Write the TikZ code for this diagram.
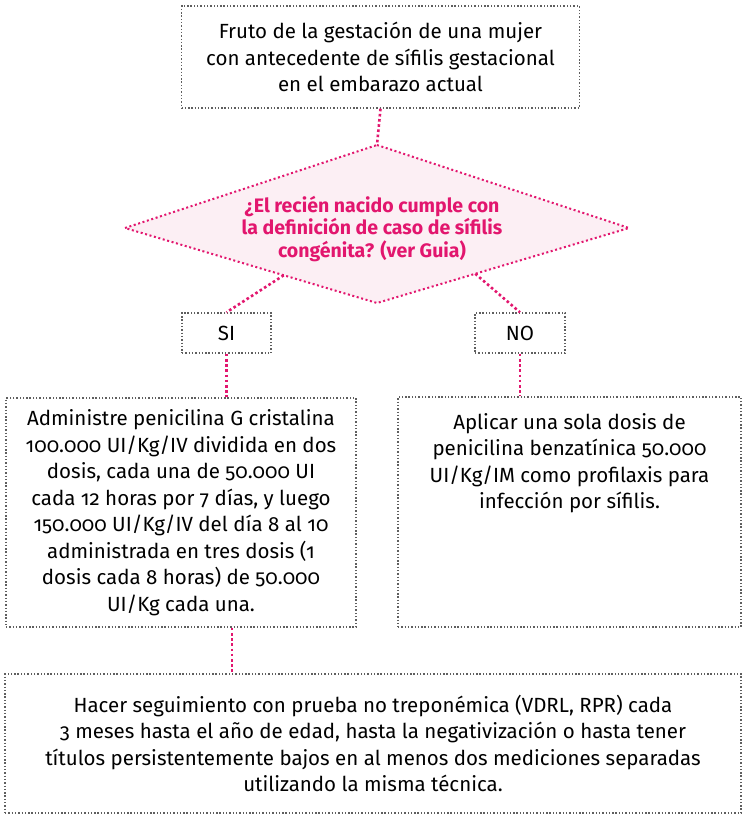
\documentclass[tikz,border=0pt]{standalone}
\usepackage{fontspec}
\setmainfont{Fira Sans}[Numbers=OldStyle]
\usetikzlibrary{positioning,calc}
\definecolor{rosa}{HTML}{E2166E}
\definecolor{rosaclaro}{HTML}{FCEFF4}
\definecolor{gris}{HTML}{5E5E5E}
\tikzset{
  caja/.style={draw=gris, line width=1.4pt, dash pattern=on 1.4pt off 1.9pt, inner sep=0pt, align=center},
  texto/.style={font=\fontsize{20.5}{26.5}\selectfont, align=center, inner sep=0pt},
  enlace/.style={draw=rosa, line width=2.6pt, dash pattern=on 2.6pt off 2.6pt}
}
\begin{document}
\begin{tikzpicture}[x=1pt,y=-1pt]
            \useasboundingbox (0,0) rectangle (743,815);
            % caja inicial
            \node[caja, texto, minimum width=398pt, minimum height=102pt] (inicio) at (380.5,57)
              {Fruto de la gestación de una mujer\\con antecedente de sífilis gestacional\\en el embarazo actual};
            % pregunta
            \coordinate (pn) at (377,145);
            \coordinate (ps) at (377,303);
            \coordinate (pw) at (125,228);
            \coordinate (pe) at (629,228);
            \fill[rosaclaro] (pn) -- (pe) -- (ps) -- (pw) -- cycle;
            \draw[enlace, line width=2pt, dash pattern=on 2pt off 2.6pt] (pn) -- (pe) -- (ps) -- (pw) -- cycle;
            \node[text=rosa, align=center, inner sep=0pt, font=\fontsize{19.5}{22.5}\bfseries\selectfont] (pregunta) at (372,229)
              {¿El recién nacido cumple con\\la definición de caso de sífilis\\congénita? (ver Guia)};
            % respuestas
            \node[caja, texto, minimum width=89pt, minimum height=40pt] (si) at (226.5,333) {SI};
            \node[caja, texto, minimum width=90pt, minimum height=40pt] (no) at (520,333) {NO};
            % conductas
            \node[caja, texto, minimum width=350pt, minimum height=229pt] (izq) at (181,512.5)
              {Administre penicilina G cristalina\\100.000 UI/Kg/IV dividida en dos\\dosis, cada una de 50.000 UI\\cada 12 horas por 7 días, y luego\\150.000 UI/Kg/IV del día 8 al 10\\administrada en tres dosis (1\\dosis cada 8 horas) de 50.000\\UI/Kg cada una.};
            \node[caja, minimum width=343pt, minimum height=230pt] (der) at (569.5,512) {};
            \node[texto, below=17pt of der.north] (dertxt)
              {Aplicar una sola dosis de\\penicilina benzatínica 50.000\\UI/Kg/IM como profilaxis para\\infección por sífilis.};
            % seguimiento
            \node[caja, texto, minimum width=736pt, minimum height=139pt] (seguimiento) at (373,743.5)
              {Hacer seguimiento con prueba no treponémica (VDRL, RPR) cada\\3 meses hasta el año de edad, hasta la negativización o hasta tener\\títulos persistentemente bajos en al menos dos mediciones separadas\\utilizando la misma técnica.};
            % conectores
            \draw[enlace] (inicio.south) -- (pn);
            \draw[enlace] ($(pw)!0.63!(ps)$) -- (si.north);
            \draw[enlace] ($(ps)!0.39!(pe)$) -- (no.north);
            \draw[enlace] (si.south) -- (si.south |- izq.north);
            \draw[enlace] (no.south) -- (no.south |- der.north);
            \coordinate (bajada) at ($(izq.south)+(51,0)$);
            \draw[enlace] (bajada) -- (bajada |- seguimiento.north);
        \end{tikzpicture}
\end{document}
